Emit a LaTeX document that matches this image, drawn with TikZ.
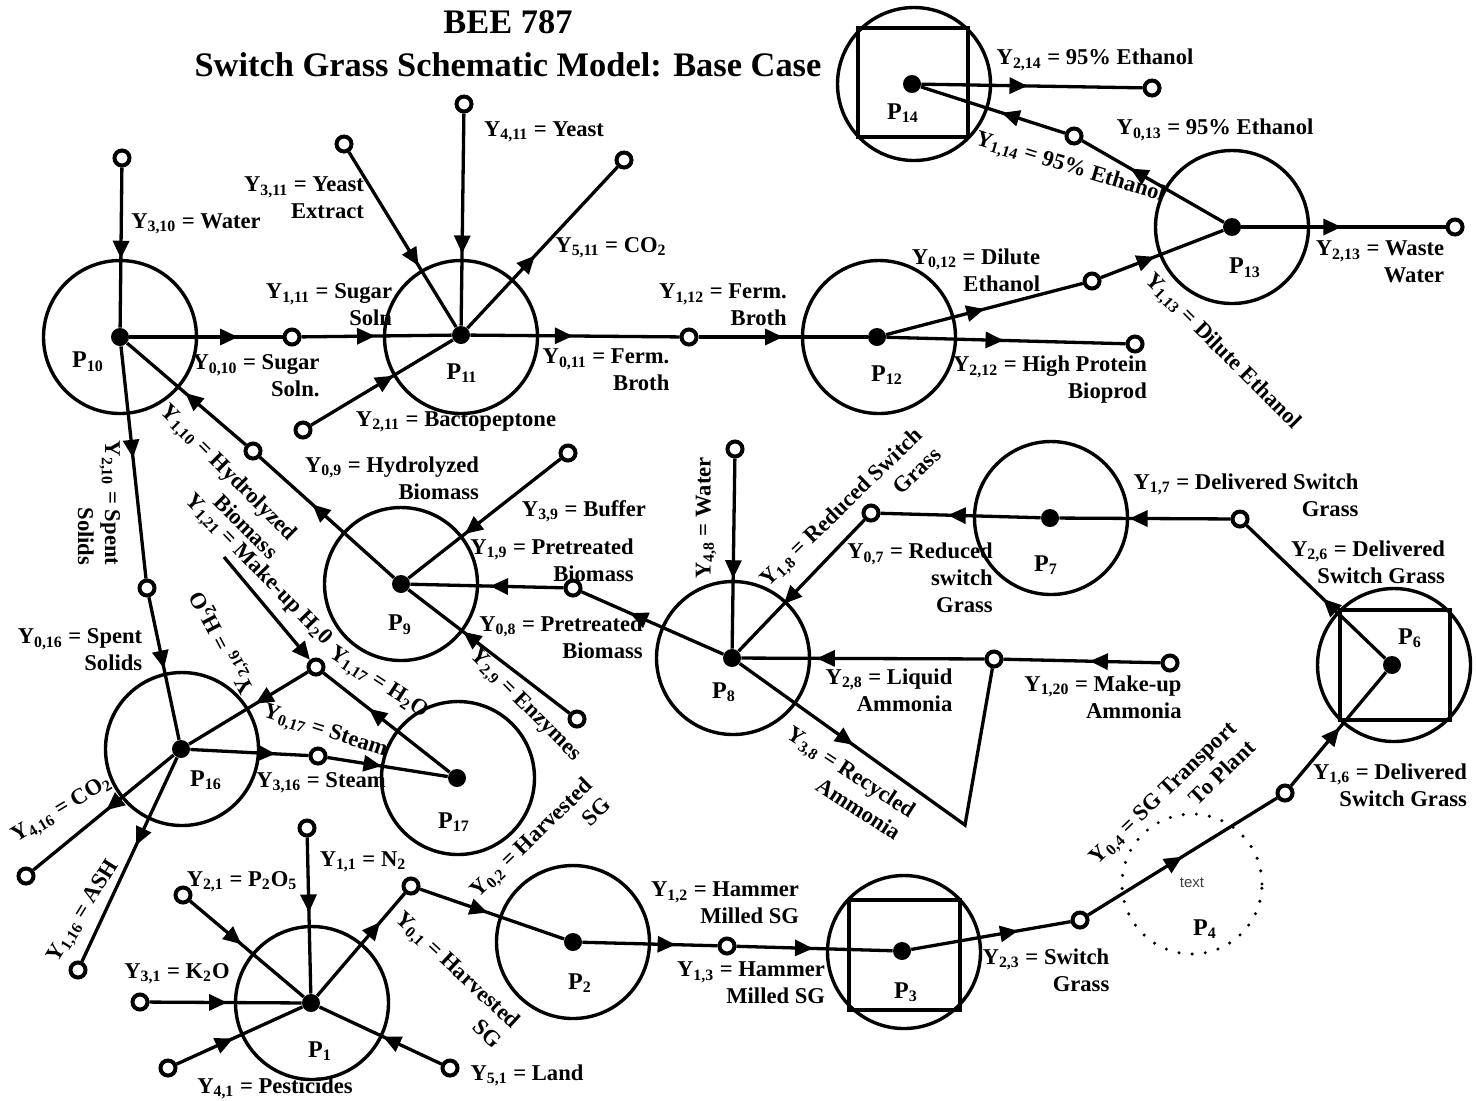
\documentclass[tikz,border=0pt]{standalone}
\usepackage{fontspec}
\setmainfont{Liberation Serif}
\setsansfont{Liberation Sans}
\usetikzlibrary{arrows.meta,decorations.markings}
\tikzset{
  lab/.style={font=\fontsize{11.3}{13.5}\selectfont\bfseries, inner sep=0pt, align=right},
  plab/.style={font=\fontsize{12}{14}\selectfont\bfseries, inner sep=0pt},
  ttl/.style={font=\fontsize{17.2}{20}\selectfont\bfseries, inner sep=0pt},
  proc/.style={circle, draw, line width=1.7pt, minimum size=76.5pt, inner sep=0pt},
  sqbox/.style={rectangle, draw, line width=1.7pt, minimum width=55pt, minimum height=55pt, inner sep=0pt},
  dotnode/.style={circle, fill, minimum size=9pt, inner sep=0pt},
  term/.style={circle, draw, line width=2pt, minimum size=7.5pt, inner sep=0pt, fill=white},
  conn/.style={line width=1.65pt},
  flow/.style={line width=1.65pt, postaction={decorate},
    decoration={markings, mark=at position #1 with {\arrow{Triangle[length=9pt,width=8pt]}}}},
}
\begin{document}
\begin{tikzpicture}[x=0.5pt,y=-0.5pt]
\useasboundingbox (0,0) rectangle (1476,1100);
% title
\node[ttl] (title1) at (508,22) {BEE 787};
\node[ttl] (title2) at (508,65) {Switch Grass Schematic Model: Base Case};
% process circles
\node[proc] (c1) at (312,1003) {};
\node[proc] (c2) at (573,942) {};
\node[proc] (c3) at (904,952) {};
\node[circle, draw, dash pattern=on 0pt off 6.6pt, line cap=round, line width=1.7pt, minimum size=70pt, inner sep=0pt] (c4) at (1192,884) {};
\node[proc] (c6) at (1394,665) {};
\node[proc] (c7) at (1051,518) {};
\node[proc] (c8) at (733,658) {};
\node[proc] (c9) at (401,584) {};
\node[proc] (c10) at (120,337) {};
\node[proc] (c11) at (461,337) {};
\node[proc] (c12) at (879,337) {};
\node[proc] (c13) at (1232,227) {};
\node[proc] (c14) at (914,84) {};
\node[proc] (c16) at (182,749) {};
\node[proc] (c17) at (458,778) {};
% squares
\node[sqbox, minimum height=54.5pt] (s14) at (913,82.5) {};
\node[sqbox] (s6) at (1395,665) {};
\node[sqbox, minimum width=55.5pt] (s3) at (904.5,955) {};
% dots
\node[dotnode] (d1) at (311,1003) {};
\node[dotnode] (d2) at (573,942) {};
\node[dotnode] (d3) at (902,951) {};
\node[dotnode] (d6) at (1392,665) {};
\node[dotnode] (d7) at (1050,518) {};
\node[dotnode] (d8) at (732,658) {};
\node[dotnode] (d9) at (401,584) {};
\node[dotnode] (d10) at (120,337) {};
\node[dotnode] (d11) at (461,335) {};
\node[dotnode] (d12) at (877,337) {};
\node[dotnode] (d13) at (1232,227) {};
\node[dotnode] (d14) at (912,84) {};
\node[dotnode] (d16) at (181,749) {};
\node[dotnode] (d17) at (457,778) {};
% terminals
\node[term] (t10w) at (122,158) {};
\node[term] (t1011) at (292,337) {};
\node[term] (t1016) at (147,588) {};
\node[term] (t910) at (253,451) {};
\node[term] (t11y) at (344,144) {};
\node[term] (t11ye) at (464,104) {};
\node[term] (t11c) at (624,160) {};
\node[term] (t11b) at (303,430) {};
\node[term] (t1112) at (689,337) {};
\node[term] (t1213) at (1092,281) {};
\node[term] (t12h) at (1135,344) {};
\node[term] (t1314) at (1074,136) {};
\node[term] (t13w) at (1455,227) {};
\node[term] (t14e) at (1152,88) {};
\node[term] (t9b) at (568,453) {};
\node[term] (t89) at (573,588) {};
\node[term] (t9e) at (577,719) {};
\node[term] (t8w) at (735,449) {};
\node[term] (t78) at (871,513) {};
\node[term] (t8a) at (994,659) {};
\node[term] (t20) at (1170,663) {};
\node[term] (t67) at (1240,519) {};
\node[term] (t46) at (1285,793) {};
\node[term] (t34) at (1080,920) {};
\node[term] (t23) at (727,946) {};
\node[term] (t12) at (411,886) {};
\node[term] (t1n) at (307,828) {};
\node[term] (t1p) at (183,895) {};
\node[term] (t1k) at (140,1002) {};
\node[term] (t1pe) at (168,1068) {};
\node[term] (t1l) at (450,1068) {};
\node[term] (t17) at (316,667) {};
\node[term] (t1617) at (318,756) {};
\node[term] (t16c) at (26,876) {};
\node[term] (t16a) at (78,970) {};
\coordinate (mk) at (224,557);
\coordinate (corner) at (965,825);
% connectors
\draw[flow=0.57] (t10w) -- (d10);
\draw[flow=0.71] (d10) -- (t1011);
\draw[flow=0.49] (t1011) -- (d11);
\draw[flow=0.48] (d10) -- (t1016);
\draw[flow=0.50] (t1016) -- (d16);
\draw[flow=0.61] (d9) -- (t910);
\draw[flow=0.51] (t910) -- (d10);
\draw[flow=0.65] (t11y) -- (d11);
\draw[flow=0.66] (t11ye) -- (d11);
\draw[flow=0.45] (d11) -- (t11c);
\draw[flow=0.58] (t11b) -- (d11);
\draw[flow=0.49] (d11) -- (t1112);
\draw[flow=0.50] (t1112) -- (d12);
\draw[flow=0.50] (d12) -- (t1213);
\draw[flow=0.44] (t1213) -- (d13);
\draw[flow=0.49] (d12) -- (t12h);
\draw[flow=0.66] (d13) -- (t1314);
\draw[flow=0.44] (t1314) -- (d14);
\draw[flow=0.49] (d13) -- (t13w);
\draw[flow=0.48] (d14) -- (t14e);
\draw[flow=0.63] (t9b) -- (d9);
\draw[flow=0.48] (t89) -- (d9);
\draw[flow=0.66] (d8) -- (t89);
\draw[flow=0.66] (t9e) -- (d9);
\draw[flow=0.63] (t8w) -- (d8);
\draw[flow=0.64] (t78) -- (d8);
\draw[flow=0.58] (d7) -- (t78);
\draw[flow=0.59] (t67) -- (d7);
\draw[flow=0.45] (d6) -- (t67);
\draw[flow=0.69] (t8a) -- (d8);
\draw[flow=0.45] (t20) -- (t8a);
\draw[flow=0.32] (d8) -- (corner) -- (t8a);
\draw[flow=0.51] (t46) -- (d6);
\draw[flow=0.50] (t34) -- (t46);
\draw[flow=0.67] (d3) -- (t34);
\draw[flow=0.69] (d2) -- (t23);
\draw[flow=0.49] (t23) -- (d3);
\draw[flow=0.47] (t12) -- (d2);
\draw[flow=0.72] (d1) -- (t12);
\draw[flow=0.48] (t1n) -- (d1);
\draw[flow=0.45] (t1p) -- (d1);
\draw[flow=0.51] (t1k) -- (d1);
\draw[flow=0.45] (t1pe) -- (d1);
\draw[flow=0.48] (t1l) -- (d1);
\draw[flow=0.72] (d16) -- (t1617);
\draw[flow=0.45] (t1617) -- (d17);
\draw[flow=0.64] (d17) -- (t17);
\draw[flow=0.44] (t17) -- (d16);
\draw[conn,-{Triangle[length=9pt,width=8pt]}] (mk) -- (t17);
\draw[flow=0.48] (d16) -- (t16c);
\draw[flow=0.43] (d16) -- (t16a);
% process labels
\node[plab] (p10) at (88,362) {P\textsubscript{10}};
\node[plab] (p11) at (462,373) {P\textsubscript{11}};
\node[plab] (p12) at (887,375) {P\textsubscript{12}};
\node[plab] (p13) at (1245,268) {P\textsubscript{13}};
\node[plab] (p14) at (903,113) {P\textsubscript{14}};
\node[plab] (p9) at (400,625) {P\textsubscript{9}};
\node[plab] (p8) at (724,692) {P\textsubscript{8}};
\node[plab] (p7) at (1046,565) {P\textsubscript{7}};
\node[plab] (p6) at (1410,638) {P\textsubscript{6}};
\node[plab] (p16) at (206,780) {P\textsubscript{16}};
\node[plab] (p17) at (454,822) {P\textsubscript{17}};
\node[plab] (p1) at (320,1051) {P\textsubscript{1}};
\node[plab] (p2) at (580,983) {P\textsubscript{2}};
\node[plab] (p3) at (906,992) {P\textsubscript{3}};
\node[plab] (p4) at (1205,929) {P\textsubscript{4}};
\node[font=\sffamily\fontsize{7.5}{9}\selectfont, text=black!75, inner sep=0pt] (txt4) at (1192,883) {text};
% horizontal stream labels
\node[lab] (l310) at (196,224) {Y\textsubscript{3,10} = Water};
\node[lab] (l311) at (304,198) {Y\textsubscript{3,11} = Yeast\\Extract};
\node[lab] (l411) at (544,132) {Y\textsubscript{4,11} = Yeast};
\node[lab] (l511) at (611,248) {Y\textsubscript{5,11} = CO\textsubscript{2}};
\node[lab] (l111) at (329,305) {Y\textsubscript{1,11} = Sugar\\Soln};
\node[lab] (l010) at (256,376) {Y\textsubscript{0,10} = Sugar\\Soln.};
\node[lab] (l211) at (456,422) {Y\textsubscript{2,11} = Bactopeptone};
\node[lab] (l011) at (606,370) {Y\textsubscript{0,11} = Ferm.\\Broth};
\node[lab] (l112) at (723,305) {Y\textsubscript{1,12} = Ferm.\\Broth};
\node[lab] (l012) at (976,270) {Y\textsubscript{0,12} = Dilute\\Ethanol};
\node[lab] (l212) at (1050,380) {Y\textsubscript{2,12} = High Protein\\Bioprod};
\node[lab] (l013) at (1215,130) {Y\textsubscript{0,13} = 95\% Ethanol};
\node[lab] (l213) at (1380,262) {Y\textsubscript{2,13} = Waste\\Water};
\node[lab] (l214) at (1095,60) {Y\textsubscript{2,14} = 95\% Ethanol};
\node[lab] (l09) at (392,478) {Y\textsubscript{0,9} = Hydrolyzed\\Biomass};
\node[lab] (l39) at (584,511) {Y\textsubscript{3,9} = Buffer};
\node[lab] (l19) at (552,560) {Y\textsubscript{1,9} = Pretreated\\Biomass};
\node[lab] (l08) at (561,637) {Y\textsubscript{0,8} = Pretreated\\Biomass};
\node[lab] (l07) at (920,578) {Y\textsubscript{0,7} = Reduced\\switch\\Grass};
\node[lab] (l28) at (889,690) {Y\textsubscript{2,8} = Liquid\\Ammonia};
\node[lab] (l120) at (1103,697) {Y\textsubscript{1,20} = Make-up\\Ammonia};
\node[lab] (l17) at (1246,495) {Y\textsubscript{1,7} = Delivered Switch\\Grass};
\node[lab] (l26) at (1368,562) {Y\textsubscript{2,6} = Delivered\\Switch Grass};
\node[lab] (l16) at (1390,785) {Y\textsubscript{1,6} = Delivered\\Switch Grass};
\node[lab] (l23) at (1046,970) {Y\textsubscript{2,3} = Switch\\Grass};
\node[lab] (l12) at (725,903) {Y\textsubscript{1,2} = Hammer\\Milled SG};
\node[lab] (l13) at (751,983) {Y\textsubscript{1,3} = Hammer\\Milled SG};
\node[lab] (l11) at (363,862) {Y\textsubscript{1,1} = N\textsubscript{2}};
\node[lab] (l21) at (242,882) {Y\textsubscript{2,1} = P\textsubscript{2}O\textsubscript{5}};
\node[lab] (l31) at (177,974) {Y\textsubscript{3,1} = K\textsubscript{2}O};
\node[lab] (l41) at (275,1088) {Y\textsubscript{4,1} = Pesticides};
\node[lab] (l51) at (527,1075) {Y\textsubscript{5,1} = Land};
\node[lab] (l016) at (80,650) {Y\textsubscript{0,16} = Spent\\Solids};
\node[lab] (l316) at (321,783) {Y\textsubscript{3,16} = Steam};
% rotated stream labels
\node[lab, rotate=-90] (l210) at (99,503) {Y\textsubscript{2,10} = Spent\\Solids};
\node[lab, rotate=-45] (l110) at (220,481) {Y\textsubscript{1,10} = Hydrolyzed\\Biomass};
\node[lab, rotate=-46] (l121) at (258,570) {Y\textsubscript{1,21} = Make-up H\textsubscript{2}0};
\node[lab, rotate=118] (l216) at (224,642) {Y\textsubscript{2,16} = H\textsubscript{2}O};
\node[lab, rotate=-33] (l117) at (378,683) {Y\textsubscript{1,17} = H\textsubscript{2}O};
\node[lab, rotate=-18] (l017) at (325,732) {Y\textsubscript{0,17} = Steam};
\node[lab, rotate=31] (l416) at (62,810) {Y\textsubscript{4,16} = CO\textsubscript{2}};
\node[lab, rotate=58] (l116) at (84,912) {Y\textsubscript{1,16} = ASH};
\node[lab, rotate=-17] (l114) at (1070,168) {Y\textsubscript{1,14} = 95\% Ethanol};
\node[lab, rotate=-45] (l113) at (1222,352) {Y\textsubscript{1,13} = Dilute Ethanol};
\node[lab, rotate=-45] (l29) at (525,706) {Y\textsubscript{2,9} = Enzymes};
\node[lab, rotate=90] (l48) at (706,518) {Y\textsubscript{4,8} = Water};
\node[lab, rotate=44] (l18) at (850,516) {Y\textsubscript{1,8} = Reduced Switch\\Grass};
\node[lab, rotate=-33] (l38) at (844,783) {Y\textsubscript{3,8} = Recycled\\Ammonia};
\node[lab, rotate=44] (l04) at (1172,802) {Y\textsubscript{0,4} = SG Transport\\To Plant};
\node[lab, rotate=44] (l02) at (540,847) {Y\textsubscript{0,2} = Harvested\\SG};
\node[lab, rotate=-43] (l01) at (449,979) {Y\textsubscript{0,1} = Harvested\\SG};
\end{tikzpicture}
\end{document}
